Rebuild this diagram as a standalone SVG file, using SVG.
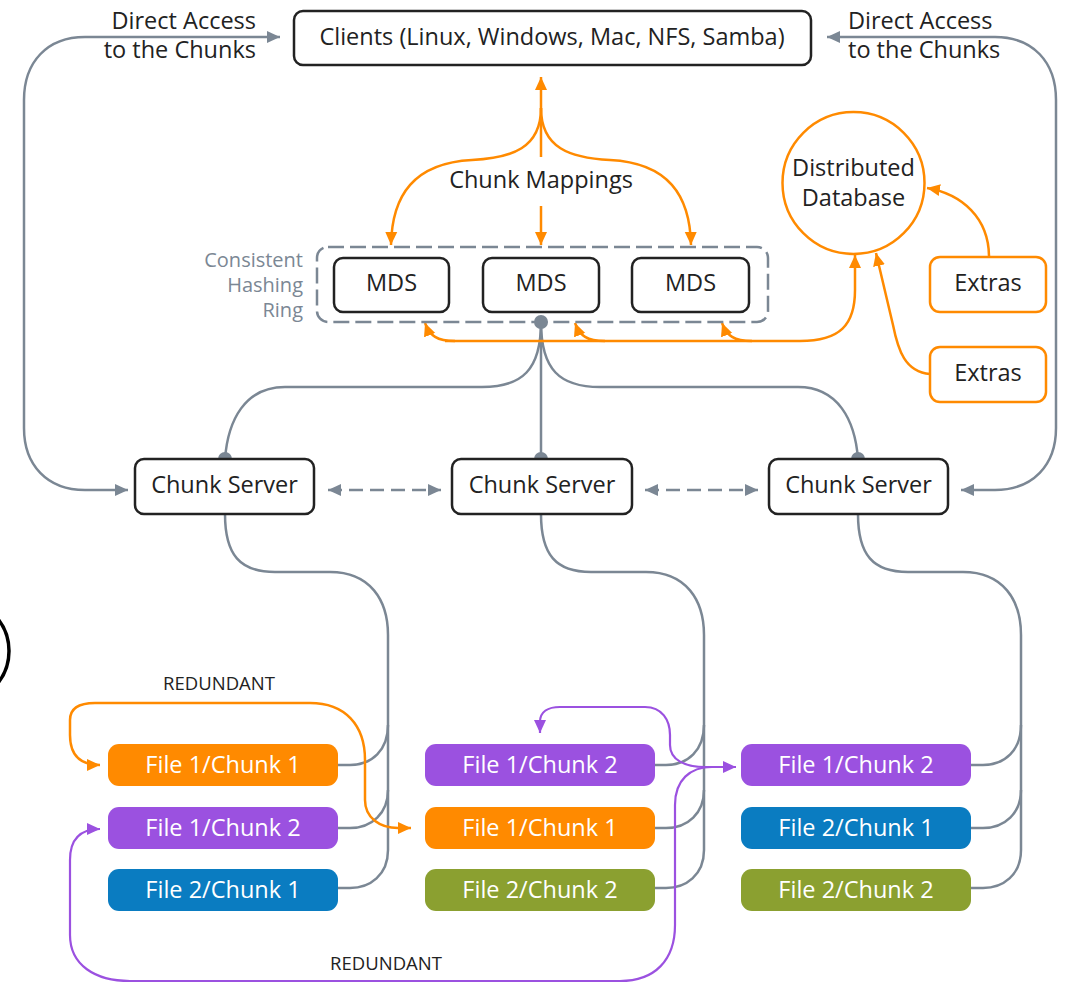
<svg xmlns="http://www.w3.org/2000/svg" width="1068" height="983" viewBox="0 0 1068 983">
<style>
text{font-family:"Open Sans","Noto Sans","Liberation Sans",sans-serif;}
.lbl{font-size:23.5px;fill:#222;text-anchor:middle;}
.wl{font-size:23.5px;fill:#fff;text-anchor:middle;}
.node{fill:#fff;stroke:#222;stroke-width:2.5;}
.onode{fill:#fff;stroke:#ff8a00;stroke-width:2.5;}
.g{fill:none;stroke:#7b8794;stroke-width:2.5;}
.o{fill:none;stroke:#ff8a00;stroke-width:2.5;}
.p{fill:none;stroke:#9b51e0;stroke-width:2.2;}
.dot{fill:#7b8794;}
</style>
<defs>
<marker id="ag" markerUnits="userSpaceOnUse" markerWidth="14" markerHeight="14" viewBox="0 0 14 14" refX="13" refY="7" orient="auto-start-reverse"><path d="M0,1 L13,7 L0,13 Z" fill="#7b8794"/></marker>
<marker id="ao" markerUnits="userSpaceOnUse" markerWidth="14" markerHeight="14" viewBox="0 0 14 14" refX="13" refY="7" orient="auto-start-reverse"><path d="M0,1 L13,7 L0,13 Z" fill="#ff8a00"/></marker>
<marker id="ap" markerUnits="userSpaceOnUse" markerWidth="14" markerHeight="14" viewBox="0 0 14 14" refX="13" refY="7" orient="auto-start-reverse"><path d="M0,1 L13,7 L0,13 Z" fill="#9b51e0"/></marker>
</defs>
<rect width="1068" height="983" fill="#fff"/>
<circle cx="-43" cy="651" r="52" fill="none" stroke="#000" stroke-width="3.5"/>

<g id="connectors">
<path class="g" d="M128 490 L85 490 C47 490 24 465 24 428 L24 100 C24 62 47 37 85 37 L280 37" marker-start="url(#ag)" marker-end="url(#ag)"/>
<path class="g" d="M827 37 L995 37 C1033 37 1056 62 1056 100 L1056 428 C1056 465 1033 490 995 490 L961 490" marker-start="url(#ag)" marker-end="url(#ag)"/>
<path class="g" d="M328 490 L441 490" stroke-dasharray="14 7" marker-start="url(#ag)" marker-end="url(#ag)"/>
<path class="g" d="M645 490 L758 490" stroke-dasharray="14 7" marker-start="url(#ag)" marker-end="url(#ag)"/>
<path class="g" d="M541 322 L541 459"/>
<path class="g" d="M541 322 C541 370 522 387 482 387 L285 387 C245 387 228 420 225 459"/>
<path class="g" d="M541 322 C541 370 560 387 600 387 L798 387 C838 387 855 420 858 459"/>
<path class="g" d="M225 514 C225 555 240 572 275 572 L330 572 C370 572 388 600 388 635 L388 850 C388 875 370 888 350 888 L338 888"/>
<path class="g" d="M338 765 L350 765 C372 765 388 750 388 725"/>
<path class="g" d="M338 828 L350 828 C372 828 388 813 388 790"/>
<path class="g" d="M541 514 C541 555 556 572 591 572 L646 572 C686 572 704 600 704 635 L704 850 C704 875 686 888 666 888 L654 888"/>
<path class="g" d="M654 765 L666 765 C688 765 704 750 704 725"/>
<path class="g" d="M654 828 L666 828 C688 828 704 813 704 790"/>
<path class="g" d="M858 514 C858 555 873 572 908 572 L963 572 C1003 572 1021 600 1021 635 L1021 850 C1021 875 1003 888 983 888 L971 888"/>
<path class="g" d="M971 765 L983 765 C1005 765 1021 750 1021 725"/>
<path class="g" d="M971 828 L983 828 C1005 828 1021 813 1021 790"/>
<path class="o" d="M541 157 L541 77" marker-end="url(#ao)"/>
<path class="o" d="M541 108 C541 148 512 158 472 160 C414 163 392 195 391 245" marker-end="url(#ao)"/>
<path class="o" d="M541 108 C541 148 570 158 610 160 C668 163 690 195 691 245" marker-end="url(#ao)"/>
<path class="o" d="M541 206 L541 245" marker-end="url(#ao)"/>
<path class="o" d="M445 341 L800 341 C840 341 855 325 855 290 L855 255" marker-end="url(#ao)"/>
<path class="o" d="M455 341 C437 341 430 336 425 323" marker-end="url(#ao)"/>
<path class="o" d="M605 341 C587 341 580 336 575 323" marker-end="url(#ao)"/>
<path class="o" d="M752 341 C734 341 727 336 722 323" marker-end="url(#ao)"/>
<path class="o" d="M989 257 C989 218 962 194 927 188" marker-end="url(#ao)"/>
<path class="o" d="M930 374 C905 372 898 350 893 325 L876 253" marker-end="url(#ao)"/>
<path class="o" d="M100 765 C80 765 70 755 70 735 L70 720 C70 708 80 703 95 703 L310 703 C345 703 365 725 365 760 L365 800 C365 818 380 828 398 828 L411 828" marker-start="url(#ao)" marker-end="url(#ao)"/>
<path class="p" d="M100 829 C80 829 70 840 70 860 L70 935 C70 965 95 981 130 981 L620 981 C655 981 675 960 675 925 L675 805 C675 780 690 767 712 767 L736 767" marker-start="url(#ap)" marker-end="url(#ap)"/>
<path class="p" d="M540 733 L540 722 C540 712 548 707 560 707 L645 707 C662 707 670 720 670 735 L670 745 C670 760 685 767 705 767 L736 767" marker-start="url(#ap)"/>
<circle class="dot" cx="541" cy="322" r="7"/>
<circle class="dot" cx="225" cy="459" r="7"/>
<circle class="dot" cx="541" cy="459" r="7"/>
<circle class="dot" cx="858" cy="459" r="7"/>
</g>

<g id="label-direct-left">
<text x="256" y="29" font-size="23.5" fill="#222" text-anchor="end">Direct Access</text>
<text x="256" y="58" font-size="23.5" fill="#222" text-anchor="end">to the Chunks</text>
</g>
<g id="label-direct-right">
<text x="848" y="29" font-size="23.5" fill="#222">Direct Access</text>
<text x="848" y="58" font-size="23.5" fill="#222">to the Chunks</text>
</g>
<g id="label-mappings"><text class="lbl" x="541" y="188">Chunk Mappings</text></g>
<g id="label-redundant-top"><text x="219" y="690" font-size="18.5" fill="#222" text-anchor="middle">REDUNDANT</text></g>
<g id="label-redundant-bottom"><text x="386" y="970" font-size="18.5" fill="#222" text-anchor="middle">REDUNDANT</text></g>

<g id="clients"><rect class="node" x="294" y="11" width="517" height="54" rx="9"/><text class="lbl" x="552" y="45">Clients (Linux, Windows, Mac, NFS, Samba)</text></g>

<g id="ring">
<rect x="317" y="247" width="451" height="75" rx="11" fill="none" stroke="#7b8794" stroke-width="2.5" stroke-dasharray="16 6"/>
<text x="303" y="267" font-size="20" fill="#7b8794" text-anchor="end">Consistent</text>
<text x="303" y="292" font-size="20" fill="#7b8794" text-anchor="end">Hashing</text>
<text x="303" y="317" font-size="20" fill="#7b8794" text-anchor="end">Ring</text>
</g>
<g id="mds1"><rect class="node" x="334" y="258" width="115" height="54" rx="9"/><text class="lbl" x="391.5" y="291">MDS</text></g>
<g id="mds2"><rect class="node" x="483" y="258" width="116" height="54" rx="9"/><text class="lbl" x="541" y="291">MDS</text></g>
<g id="mds3"><rect class="node" x="632" y="258" width="117" height="54" rx="9"/><text class="lbl" x="690.5" y="291">MDS</text></g>

<g id="database"><circle class="onode" cx="853.5" cy="183" r="71"/><text class="lbl" x="853.5" y="176">Distributed</text><text class="lbl" x="853.5" y="206">Database</text></g>
<g id="extras1"><rect class="onode" x="930" y="257" width="116" height="55" rx="10"/><text class="lbl" x="988" y="291">Extras</text></g>
<g id="extras2"><rect class="onode" x="930" y="347" width="116" height="55" rx="10"/><text class="lbl" x="988" y="381">Extras</text></g>

<g id="cs1"><rect class="node" x="135" y="459" width="179" height="55" rx="9"/><text class="lbl" x="224.5" y="493">Chunk Server</text></g>
<g id="cs2"><rect class="node" x="452" y="459" width="180" height="55" rx="9"/><text class="lbl" x="542" y="493">Chunk Server</text></g>
<g id="cs3"><rect class="node" x="769" y="459" width="179" height="55" rx="9"/><text class="lbl" x="858.5" y="493">Chunk Server</text></g>

<g id="c1-f1c1"><rect x="108" y="744" width="230" height="42" rx="11" fill="#ff8a00"/><text class="wl" x="223" y="773">File 1/Chunk 1</text></g>
<g id="c1-f1c2"><rect x="108" y="807" width="230" height="42" rx="11" fill="#9b51e0"/><text class="wl" x="223" y="836">File 1/Chunk 2</text></g>
<g id="c1-f2c1"><rect x="108" y="869" width="230" height="42" rx="11" fill="#0a7cc1"/><text class="wl" x="223" y="898">File 2/Chunk 1</text></g>
<g id="c2-f1c2"><rect x="425" y="744" width="230" height="42" rx="11" fill="#9b51e0"/><text class="wl" x="540" y="773">File 1/Chunk 2</text></g>
<g id="c2-f1c1"><rect x="425" y="807" width="230" height="42" rx="11" fill="#ff8a00"/><text class="wl" x="540" y="836">File 1/Chunk 1</text></g>
<g id="c2-f2c2"><rect x="425" y="869" width="230" height="42" rx="11" fill="#8ba030"/><text class="wl" x="540" y="898">File 2/Chunk 2</text></g>
<g id="c3-f1c2"><rect x="741" y="744" width="230" height="42" rx="11" fill="#9b51e0"/><text class="wl" x="856" y="773">File 1/Chunk 2</text></g>
<g id="c3-f2c1"><rect x="741" y="807" width="230" height="42" rx="11" fill="#0a7cc1"/><text class="wl" x="856" y="836">File 2/Chunk 1</text></g>
<g id="c3-f2c2"><rect x="741" y="869" width="230" height="42" rx="11" fill="#8ba030"/><text class="wl" x="856" y="898">File 2/Chunk 2</text></g>
</svg>
